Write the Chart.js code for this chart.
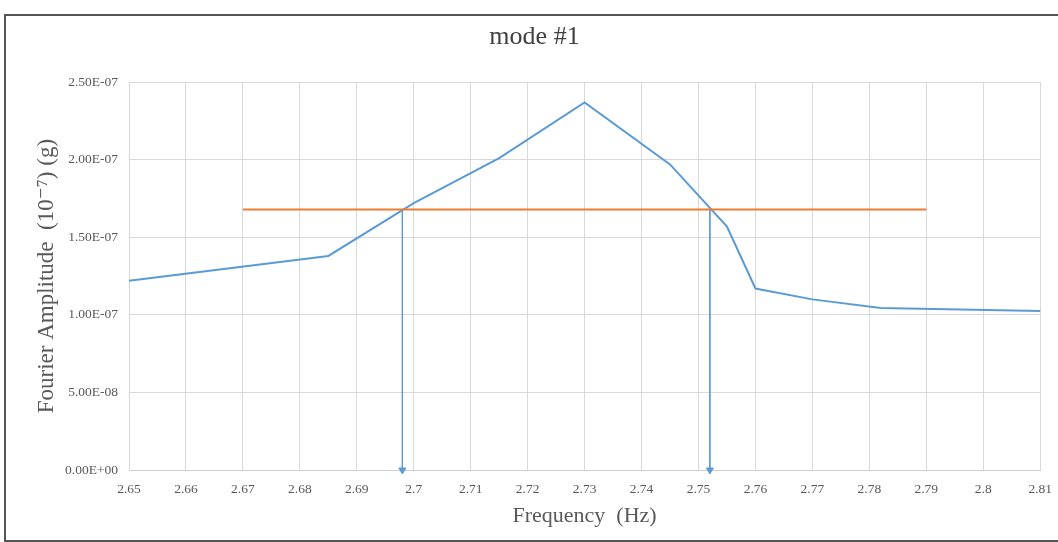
<!DOCTYPE html>
<html>
<head>
<meta charset="utf-8">
<script src="https://cdn.jsdelivr.net/npm/chart.js@4/dist/chart.umd.min.js"></script>
<style>
	html, body { margin: 0; padding: 0; background: #fff; overflow: hidden; }
	#box {
		position: absolute;
		left: 4px;
		top: 14px;
		width: 1060px;
		height: 524px;
		border: 2px solid #555;
		background: #fff;
	}
	#myChart { display: block; }
</style>
</head>
<body>
<div id="box"><canvas id="myChart" width="1057" height="524"></canvas></div>
<script>
// measured spectrum around mode #1
var freq = [2.65, 2.685, 2.70, 2.715, 2.73, 2.745, 2.755, 2.76, 2.77, 2.782, 2.81];
var amp = [1.22e-7, 1.38e-7, 1.72e-7, 2.01e-7, 2.37e-7, 1.97e-7, 1.57e-7, 1.17e-7, 1.10e-7, 1.045e-7, 1.025e-7];

// half power level (peak / sqrt 2)
var halfPowerX = [2.67, 2.79];
var halfPowerY = [1.68e-7, 1.68e-7];

// arrows down from the crossings
var arrowLeftX = [2.698, 2.698];
var arrowRightX = [2.752, 2.752];
var arrowY = [1.68e-7, 0];

function _toPoints(xs, ys) {
	var pts = new Array();
	for (var i = 0; i < xs.length; i++) {
		pts.push({ x: xs[i], y: ys[i] });
	}
	return pts;
}

function sciLabel(v) {
	if (Math.abs(v) < 1e-15) return '0.00E+00';
	var e = Math.floor(Math.log10(Math.abs(v)) + 1e-9);
	var m = v / Math.pow(10, e);
	var sign = e < 0 ? '-' : '+';
	var ee = ('0' + Math.abs(e)).slice(-2);
	return m.toFixed(2) + 'E' + sign + ee;
}

var serif = "'Liberation Serif', 'DejaVu Serif', serif";
var gray = '#595959';
var blue = '#5b9bd5';

var arrowStyle = {
	borderColor: blue,
	backgroundColor: blue,
	borderWidth: 1,
	pointStyle: 'triangle',
	pointRotation: [0, 180],
	pointRadius: [0, 4],
	pointHoverRadius: 0,
	order: 3
};

var _config = {
	type: 'line',
	data: {
		datasets: [
			{
				data: _toPoints(freq, amp),
				borderColor: blue,
				borderWidth: 2,
				pointRadius: 0,
				tension: 0,
				order: 2
			},
			{
				data: _toPoints(halfPowerX, halfPowerY),
				borderColor: '#ed7d31',
				borderWidth: 2,
				pointRadius: 0,
				order: 1
			},
			Object.assign({ data: _toPoints(arrowLeftX, arrowY) }, arrowStyle),
			Object.assign({ data: _toPoints(arrowRightX, arrowY) }, arrowStyle)
		]
	},
	options: {
		responsive: false,
		animation: false,
		clip: false,
		layout: {
			padding: { left: 0, right: 0, top: 0, bottom: 0 }
		},
		plugins: {
			legend: { display: false },
			tooltip: { enabled: false },
			title: {
				display: true,
				text: 'mode #1',
				color: '#404040',
				font: { family: serif, size: 26, weight: 'normal' },
				padding: { top: 6, bottom: 29 }
			}
		},
		scales: {
			x: {
				type: 'linear',
				min: 2.65,
				max: 2.81,
				grid: { color: '#d9d9d9', drawTicks: false },
				border: { color: '#d0d0d0' },
				ticks: {
					stepSize: 0.01,
					padding: 11,
					color: gray,
					font: { family: serif, size: 13.5 },
					maxRotation: 0,
					callback: function(value) {
						return parseFloat(value.toFixed(2)).toString();
					}
				},
				title: {
					display: true,
					text: 'Frequency  (Hz)',
					color: gray,
					font: { family: serif, size: 22 },
					padding: { top: 4, bottom: 11 }
				},
				afterFit: function(scale) {
					scale.height = 70;
				}
			},
			y: {
				min: 0,
				max: 2.5e-7,
				grid: { color: '#d9d9d9', drawTicks: false },
				border: { display: false },
				ticks: {
					stepSize: 5e-8,
					padding: 11,
					color: gray,
					font: { family: serif, size: 13.5 },
					callback: function(value) {
						return sciLabel(value);
					}
				},
				title: {
					display: true,
					text: 'Fourier Amplitude  (10⁻⁷) (g)',
					color: gray,
					font: { family: serif, size: 23 },
					padding: { top: 27, bottom: 4 }
				},
				afterFit: function(scale) {
					scale.width = 123;
				}
			}
		}
	}
};

var myChart = new Chart(document.getElementById('myChart'), _config);
</script>
</body>
</html>
